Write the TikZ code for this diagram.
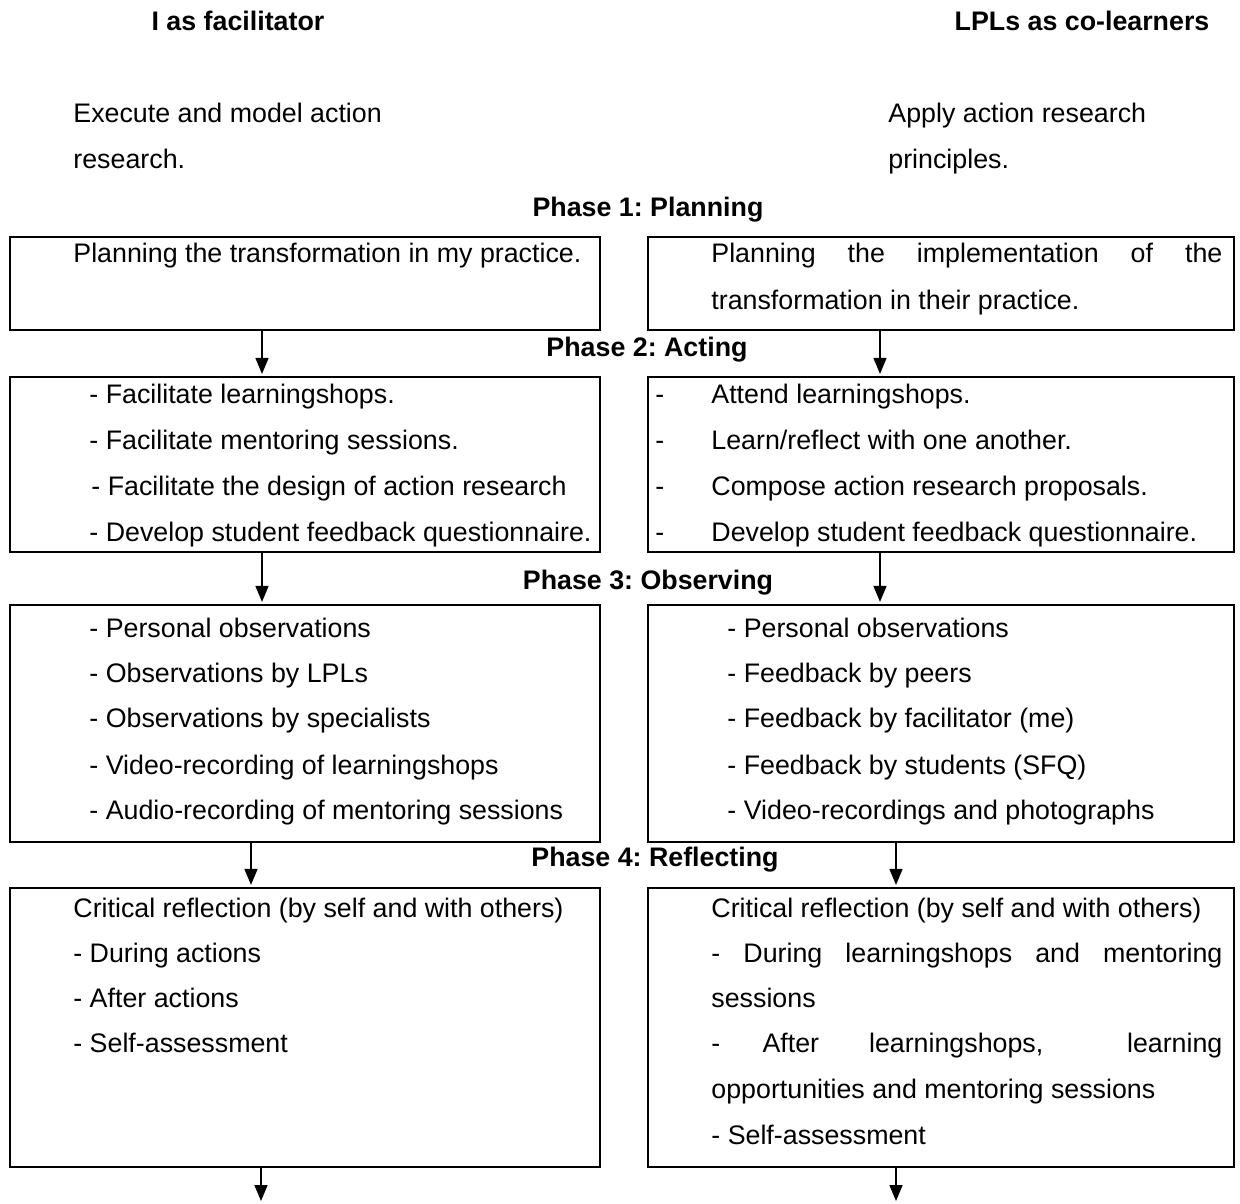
\documentclass[tikz,border=0pt]{standalone}
\usepackage{fontspec}
\setmainfont{Liberation Sans}
\usetikzlibrary{arrows.meta,fit}
\frenchspacing
\begin{document}
\begin{tikzpicture}[x=0.5pt,y=-0.5pt,
  txt/.style={anchor=base west,inner sep=0pt,font=\fontsize{13.4}{16}\selectfont},
  head/.style={anchor=base,inner sep=0pt,font=\fontsize{13.4}{16}\selectfont\bfseries},
  frame/.style={draw,line width=1.1pt,inner sep=0pt},
  arr/.style={-{Triangle[length=8pt,width=6.5pt]},line width=0.8pt,shorten >=1pt}]
\useasboundingbox (0,0) rectangle (1240,1203);

% column headers
\node[head] (hL) at (238,31) {I as facilitator};
\node[head] (hR) at (1082,31) {LPLs as co-learners};

% roles
\node[txt] (rL1) at (73,123) {Execute and model action};
\node[txt] (rL2) at (73,169) {research.};
\node[txt] (rR1) at (888,123) {Apply action research};
\node[txt] (rR2) at (888,169) {principles.};

% phase titles
\node[head] (p1) at (648,217) {Phase 1: Planning};
\node[head] (p2) at (647,357) {Phase 2: Acting};
\node[head] (p3) at (648,589) {Phase 3: Observing};
\node[head] (p4) at (655,866) {Phase 4: Reflecting};

% frames
\node[frame,fit={(10,237) (600,330)}] (b1L) {};
\node[frame,fit={(648,237) (1234,330)}] (b1R) {};
\node[frame,fit={(10,377) (600,552)}] (b2L) {};
\node[frame,fit={(648,377) (1234,552)}] (b2R) {};
\node[frame,fit={(10,605) (600,842)}] (b3L) {};
\node[frame,fit={(648,605) (1234,842)}] (b3R) {};
\node[frame,fit={(10,888) (600,1167)}] (b4L) {};
\node[frame,fit={(648,888) (1234,1167)}] (b4R) {};

% phase 1
\node[txt] (t1L) at (73,263) {Planning the transformation in my practice.};
\node[txt] (t1R1) at (711,263) {\hbox to 255.5pt{Planning\hfill the\hfill implementation\hfill of\hfill the}};
\node[txt] (t1R2) at (711,309) {transformation in their practice.};

% phase 2
\node[txt] (t2L1) at (89,403) {- Facilitate learningshops.};
\node[txt] (t2L2) at (89,449) {- Facilitate mentoring sessions.};
\node[txt] (t2L3) at (91,495) {- Facilitate the design of action research};
\node[txt] (t2L4) at (89,541) {- Develop student feedback questionnaire.};
\node[txt] (d2R1) at (655,403) {-};
\node[txt] (d2R2) at (655,449) {-};
\node[txt] (d2R3) at (655,495) {-};
\node[txt] (d2R4) at (655,541) {-};
\node[txt] (t2R1) at (711,403) {Attend learningshops.};
\node[txt] (t2R2) at (711,449) {Learn/reflect with one another.};
\node[txt] (t2R3) at (711,495) {Compose action research proposals.};
\node[txt] (t2R4) at (711,541) {Develop student feedback questionnaire.};

% phase 3
\node[txt] (t3L1) at (89,637) {- Personal observations};
\node[txt] (t3L2) at (89,682) {- Observations by LPLs};
\node[txt] (t3L3) at (89,727) {- Observations by specialists};
\node[txt] (t3L4) at (89,774) {- Video-recording of learningshops};
\node[txt] (t3L5) at (89,819) {- Audio-recording of mentoring sessions};
\node[txt] (t3R1) at (727,637) {- Personal observations};
\node[txt] (t3R2) at (727,682) {- Feedback by peers};
\node[txt] (t3R3) at (727,727) {- Feedback by facilitator (me)};
\node[txt] (t3R4) at (727,774) {- Feedback by students (SFQ)};
\node[txt] (t3R5) at (727,819) {- Video-recordings and photographs};

% phase 4
\node[txt] (t4L1) at (73,917) {Critical reflection (by self and with others)};
\node[txt] (t4L2) at (73,962) {- During actions};
\node[txt] (t4L3) at (73,1007) {- After actions};
\node[txt] (t4L4) at (73,1052) {- Self-assessment};
\node[txt] (t4R1) at (711,917) {Critical reflection (by self and with others)};
\node[txt] (t4R2) at (711,962) {\hbox to 255.5pt{-\hfill During\hfill learningshops\hfill and\hfill mentoring}};
\node[txt] (t4R3) at (711,1007) {sessions};
\node[txt] (t4R4) at (711,1052) {\hbox to 255.5pt{-\hskip 0pt plus 60fil\relax After\hskip 0pt plus 71fil\relax learningshops,\hskip 0pt plus 119fil\relax learning}};
\node[txt] (t4R5) at (711,1098) {opportunities and mentoring sessions};
\node[txt] (t4R6) at (711,1144) {- Self-assessment};

% arrow columns
\coordinate (cA) at (262,0);
\coordinate (cB) at (880,0);
\coordinate (cC) at (251,0);
\coordinate (cD) at (896,0);
\coordinate (cE) at (261,0);
\coordinate (endL) at (261,1203);
\coordinate (endR) at (896,1203);

% connectors
\draw[arr] (b1L.south -| cA) -- (b2L.north -| cA);
\draw[arr] (b1R.south -| cB) -- (b2R.north -| cB);
\draw[arr] (b2L.south -| cA) -- (b3L.north -| cA);
\draw[arr] (b2R.south -| cB) -- (b3R.north -| cB);
\draw[arr] (b3L.south -| cC) -- (b4L.north -| cC);
\draw[arr] (b3R.south -| cD) -- (b4R.north -| cD);
\draw[arr] (b4L.south -| cE) -- (endL);
\draw[arr] (b4R.south -| cD) -- (endR);
\end{tikzpicture}
\end{document}
